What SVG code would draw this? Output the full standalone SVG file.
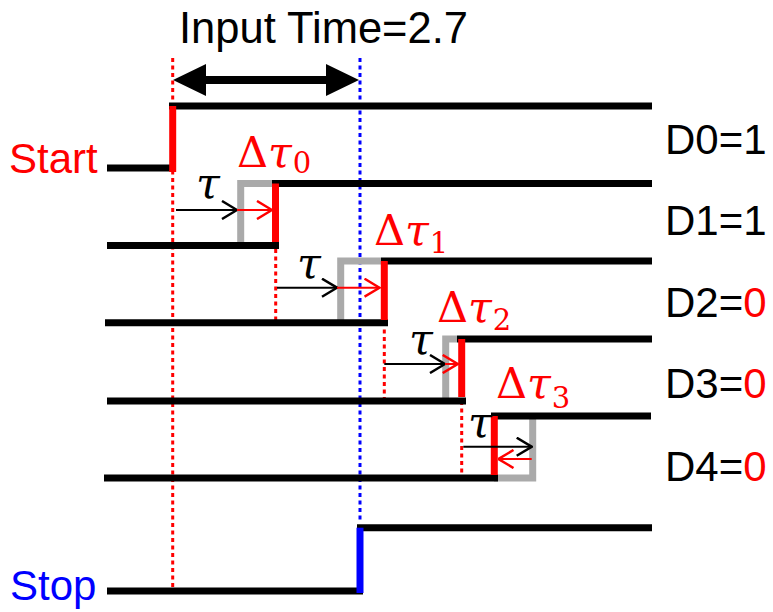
<svg xmlns="http://www.w3.org/2000/svg" width="773" height="612" viewBox="0 0 773 612">
<style>
.sig{stroke:#000;stroke-width:7;fill:none}
.red{stroke:#ff0000;stroke-width:7;fill:none}
.blue{stroke:#0000ff;stroke-width:7;fill:none}
.gray{stroke:#aaaaaa;stroke-width:7;fill:none}
.dotr{stroke:#ff0000;stroke-width:3;stroke-dasharray:4 3.5;fill:none}
.dotb{stroke:#0000ff;stroke-width:3;stroke-dasharray:4 3.5;fill:none}
.arb{stroke:#000;stroke-width:2;fill:none;marker-end:url(#mb)}
.arr{stroke:#ff0000;stroke-width:2;fill:none;marker-end:url(#mr)}
.lbl{font-family:"Liberation Sans",Arial,sans-serif;font-size:42px;fill:#000}
.math{font-family:"DejaVu Serif","Liberation Serif",serif;font-size:43px}
.tau{font-style:italic}
.sub{font-size:29px}
</style>
<defs>
<marker id="mb" viewBox="0 0 17 20" refX="16" refY="10" markerWidth="17" markerHeight="20" markerUnits="userSpaceOnUse" orient="auto">
<path d="M1,1 L16,10 L1,19" fill="none" stroke="#000" stroke-width="2.5"/>
</marker>
<marker id="mr" viewBox="0 0 17 20" refX="16" refY="10" markerWidth="17" markerHeight="20" markerUnits="userSpaceOnUse" orient="auto">
<path d="M1,1 L16,10 L1,19" fill="none" stroke="#ff0000" stroke-width="2.5"/>
</marker>
</defs>

<g id="title">
<text class="lbl" x="179" y="43" style="font-size:43.5px">Input Time=2.7</text>
<polygon points="173,80 206,64 206,76 326,76 326,64 359,80 326,96 326,84 206,84 206,96" fill="#000"/>
</g>

<g id="guides">
<line class="dotr" x1="172.7" y1="58" x2="172.7" y2="587"/>
<line class="dotb" x1="360" y1="58" x2="360" y2="522"/>
<line class="dotr" x1="275.7" y1="249" x2="275.7" y2="322"/>
<line class="dotr" x1="384.3" y1="322" x2="384.3" y2="400"/>
<line class="dotr" x1="461.7" y1="401" x2="461.7" y2="475"/>
</g>

<g id="start">
<text class="lbl" x="9" y="173" style="fill:#ff0000">Start</text>
<path class="sig" d="M107,168 H173"/>
<path class="sig" d="M169,106 H652"/>
<path class="red" d="M172.7,106 V172"/>
<text class="lbl" x="665" y="154">D0=1</text>
</g>

<g id="d1">
<path class="gray" d="M240.7,245 V183.5 H275"/>
<path class="sig" d="M272,183.5 H652"/>
<path class="sig" d="M107,245.5 H279"/>
<path class="red" d="M275.5,183.5 V242"/>
<text class="lbl" x="665" y="235">D1=1</text>
<text class="math" x="237" y="166.7" fill="#ff0000">Δ<tspan class="tau">τ</tspan><tspan class="sub" dx="1" dy="6.3">0</tspan></text>
</g>

<g id="d2">
<path class="gray" d="M340.7,322 V261 H381"/>
<path class="sig" d="M381,261 H652"/>
<path class="sig" d="M105,322.7 H388"/>
<path class="red" d="M384.3,261 V320"/>
<text class="lbl" x="665" y="317">D2=<tspan fill="#ff0000">0</tspan></text>
<text class="math" x="374" y="245" fill="#ff0000">Δ<tspan class="tau">τ</tspan><tspan class="sub" dx="1" dy="8">1</tspan></text>
</g>

<g id="d3">
<path class="gray" d="M445.7,401 V339 H457"/>
<path class="sig" d="M457,339 H652"/>
<path class="sig" d="M107,401 H466"/>
<path class="red" d="M461.7,339 V397"/>
<text class="lbl" x="665" y="398">D3=<tspan fill="#ff0000">0</tspan></text>
<text class="math" x="437" y="321.7" fill="#ff0000">Δ<tspan class="tau">τ</tspan><tspan class="sub" dx="1" dy="8.3">2</tspan></text>
</g>

<g id="d4">
<path class="gray" d="M494,478 H532.7 V419"/>
<path class="sig" d="M491,416 H651"/>
<path class="sig" d="M104,478 H498"/>
<path class="red" d="M494.3,416 V475"/>
<text class="lbl" x="665" y="481">D4=<tspan fill="#ff0000">0</tspan></text>
<text class="math" x="496" y="398.3" fill="#ff0000">Δ<tspan class="tau">τ</tspan><tspan class="sub" dx="1" dy="9.7">3</tspan></text>
</g>

<g id="stop">
<path class="sig" d="M357,527.7 H652"/>
<path class="sig" d="M107,591 H363"/>
<path class="blue" d="M360,527.7 V593"/>
<text class="lbl" x="10" y="600" style="fill:#0000ff">Stop</text>
</g>

<g id="connectors">
<line class="arb" x1="176" y1="210" x2="237" y2="210"/>
<line class="arr" x1="237" y1="210" x2="272" y2="210"/>
<line class="arb" x1="277" y1="287.7" x2="337" y2="287.7"/>
<line class="arr" x1="337" y1="287.7" x2="379.5" y2="287.7"/>
<line class="arb" x1="384.3" y1="364" x2="445" y2="364"/>
<line class="arr" x1="445" y1="364" x2="457.7" y2="364"/>
<line class="arb" x1="463.3" y1="446.7" x2="531.7" y2="446.7"/>
<line class="arr" x1="531.7" y1="459" x2="498.5" y2="459"/>
<text class="math tau" x="196" y="198">τ</text>
<text class="math tau" x="297" y="278">τ</text>
<text class="math tau" x="409" y="354">τ</text>
<text class="math tau" x="468" y="436.5">τ</text>
</g>
</svg>
